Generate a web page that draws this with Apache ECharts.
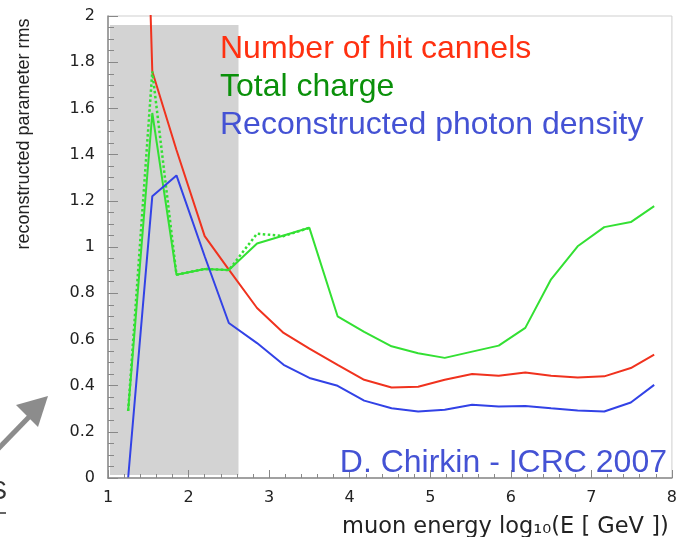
<!DOCTYPE html>
<html>
<head>
<meta charset="utf-8">
<script src="https://cdn.jsdelivr.net/npm/echarts@6/dist/echarts.min.js"></script>
<style>html,body{margin:0;padding:0;background:#fff}#c{width:680px;height:537px}</style>
</head>
<body>
<div id="c"></div>
<script>
// ---- data ----
const xValues = [1.25,1.55,1.85,2.2,2.5,2.85,3.18,3.5,3.85,4.18,4.52,4.85,5.18,5.52,5.85,6.18,6.5,6.83,7.16,7.49,7.78];
const hitChannels = [5.3,1.76,1.42,1.047,0.902,0.736,0.628,0.56,0.49,0.425,0.392,0.395,0.425,0.45,0.443,0.457,0.443,0.435,0.44,0.476,0.534];
const totalCharge = [0.29,1.58,0.88,0.905,0.90,1.015,1.05,1.083,0.70,0.633,0.57,0.54,0.52,0.547,0.573,0.65,0.86,1.003,1.086,1.108,1.177];
const totalChargeAlt = [0.29,1.76,0.88,0.905,0.90,1.058,1.047,1.083];
const photonDensity = [0,1.22,1.31,0.96,0.671,0.584,0.49,0.433,0.399,0.335,0.302,0.288,0.295,0.317,0.309,0.312,0.302,0.292,0.288,0.327,0.403];
const seriesNames = ['Number of hit cannels','Total charge','Reconstructed photon density'];
const xTickLabels = ['1','2','3','4','5','6','7','8'];
const yTickLabels = ['0','0.2','0.4','0.6','0.8','1','1.2','1.4','1.6','1.8','2'];
const shadedX = [1.025, 2.62];
const shadedY = [0.013, 1.961];
const xTitle = 'muon energy log\u2081\u2080(E [ GeV ])';
const yTitle = 'reconstructed parameter rms';
const credit = 'D. Chirkin - ICRC 2007';

const zip = (xs, ys) => ys.map((y, i) => [xs[i], y]);

const chart = echarts.init(document.getElementById('c'));
const lineColors = ['#f0321e', '#33e033', '#3242e6'];
const textColors = ['#ff3010', '#0a900a', '#4452d4'];

const option = {
  animation: false,
  grid: {left: 108, right: 2, top: 16, bottom: 59, show: true, borderColor: '#cfcfcf', borderWidth: 1},
  xAxis: {
    type: 'value', min: 1, max: 8, interval: 1, z: 4,
    axisLine: {show: true, onZero: false, lineStyle: {color: '#8a8a8a', width: 1.5}},
    axisTick: {show: true, inside: true, length: 8, lineStyle: {color: '#888', width: 1}},
    minorTick: {show: true, splitNumber: 5, length: 4, lineStyle: {color: '#888', width: 1}},
    splitLine: {show: false},
    axisLabel: {margin: 12, fontFamily: 'DejaVu Sans', fontSize: 16, color: '#222',
      formatter: v => xTickLabels[Math.round(v - 1)]}
  },
  yAxis: {
    type: 'value', min: 0, max: 2, interval: 0.2, z: 4,
    axisLine: {show: true, onZero: false, lineStyle: {color: '#8a8a8a', width: 1.5}},
    axisTick: {show: true, inside: true, length: 10, lineStyle: {color: '#888', width: 1}},
    minorTick: {show: true, splitNumber: 4, length: 6, lineStyle: {color: '#888', width: 1}},
    splitLine: {show: false},
    axisLabel: {margin: 13, fontFamily: 'DejaVu Sans', fontSize: 16, color: '#222',
      formatter: v => yTickLabels[Math.round(v / 0.2)]}
  },
  series: [
    {type: 'line', name: 'shade', data: [], z: 1, silent: true,
      markArea: {silent: true, itemStyle: {color: '#d3d3d3'},
        data: [[{coord: [shadedX[0], shadedY[0]]}, {coord: [shadedX[1], shadedY[1]]}]]}},
    {type: 'line', name: seriesNames[0], data: zip(xValues, hitChannels), z: 3, symbol: 'none',
      lineStyle: {color: lineColors[0], width: 2}, itemStyle: {color: lineColors[0]}},
    {type: 'line', name: seriesNames[1], data: zip(xValues, totalCharge), z: 3, symbol: 'none',
      lineStyle: {color: lineColors[1], width: 2}, itemStyle: {color: lineColors[1]}},
    {type: 'line', name: seriesNames[1] + ' (alt)', data: zip(xValues, totalChargeAlt), z: 3, symbol: 'none',
      lineStyle: {color: lineColors[1], width: 2.5, type: 'dotted'}, itemStyle: {color: lineColors[1]}},
    {type: 'line', name: seriesNames[2], data: zip(xValues, photonDensity), z: 3, symbol: 'none',
      lineStyle: {color: lineColors[2], width: 2}, itemStyle: {color: lineColors[2]}}
  ],
  graphic: [
    {type: 'text', x: 220, y: 49, z: 10, style: {text: seriesNames[0], fill: textColors[0], font: '32px "Liberation Sans", Arial, sans-serif', textAlign: 'left', textVerticalAlign: 'middle'}},
    {type: 'text', x: 220, y: 87, z: 10, style: {text: seriesNames[1], fill: textColors[1], font: '32px "Liberation Sans", Arial, sans-serif', textAlign: 'left', textVerticalAlign: 'middle'}},
    {type: 'text', x: 220, y: 125, z: 10, style: {text: seriesNames[2], fill: textColors[2], font: '32px "Liberation Sans", Arial, sans-serif', textAlign: 'left', textVerticalAlign: 'middle'}},
    {type: 'text', x: 667, y: 463, z: 10, style: {text: credit, fill: textColors[2], font: '32px "Liberation Sans", Arial, sans-serif', textAlign: 'right', textVerticalAlign: 'middle'}},
    {type: 'text', x: 342, y: 527, z: 10, style: {text: xTitle, fill: '#222', font: '22.5px "DejaVu Sans", sans-serif', textAlign: 'left', textVerticalAlign: 'middle'}},
    {type: 'text', x: 24, y: 134, rotation: Math.PI / 2, z: 10, style: {text: yTitle, fill: '#222', font: '18px "Liberation Sans", Arial, sans-serif', textAlign: 'center', textVerticalAlign: 'middle'}},
    {type: 'line', z: 10, shape: {x1: -2, y1: 449, x2: 29, y2: 417}, style: {stroke: '#8c8c8c', lineWidth: 5}},
    {type: 'polygon', z: 10, shape: {points: [[48, 396], [16, 405], [38, 427]]}, style: {fill: '#8c8c8c'}},
    {type: 'text', x: 7, y: 505, z: 10, style: {text: 'S', fill: '#333', font: '25px "Liberation Sans", Arial, sans-serif', textAlign: 'right', textVerticalAlign: 'bottom'}},
    {type: 'line', z: 10, shape: {x1: 0, y1: 513, x2: 6, y2: 513}, style: {stroke: '#333', lineWidth: 1.5}}
  ]
};
chart.setOption(option);
</script>
</body>
</html>
